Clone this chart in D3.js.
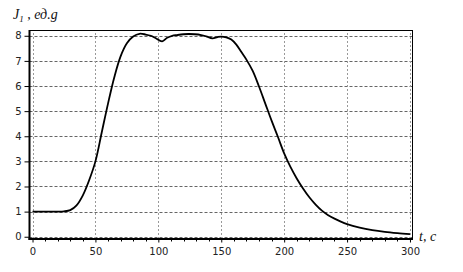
<!DOCTYPE html>
<html>
<head>
<meta charset="utf-8">
<script src="https://cdn.jsdelivr.net/npm/d3@7"></script>
<style>
  body { margin: 0; background: #fff; }
  svg { display: block; }
  .tick text { font-family: "DejaVu Sans", sans-serif; font-size: 10px; fill: #222; }
  .lbl { font-family: "Liberation Serif", serif; font-style: italic; fill: #111; }
</style>
</head>
<body>
<div class="chart"></div>
<script>
const width = 463;
const height = 272;

// time, s
const timeS = [0, 10, 20, 25, 30, 35, 40, 45, 50, 55, 60, 65, 70, 75, 80, 85,
    90, 94, 98, 103, 107, 111, 115, 120, 124, 129, 134, 138, 143, 147, 150, 154, 158, 162,
    166, 170, 175, 180, 185, 190, 195, 200, 205, 210, 215, 220, 225, 230, 235, 240, 245, 250,
    260, 270, 280, 290, 300];
// J1, units of g
const valueG = [1.0, 1.0, 1.0, 1.01, 1.06, 1.25, 1.65, 2.25, 3.0, 4.15, 5.3, 6.35, 7.18, 7.7,
    7.97, 8.08, 8.05, 8.0, 7.9, 7.78, 7.92, 8.0, 8.03, 8.06, 8.07, 8.06,
    8.03, 7.98, 7.9, 7.95, 7.97, 7.94, 7.85, 7.65, 7.35, 7.05, 6.6, 5.98, 5.3, 4.62, 3.98, 3.32,
    2.78, 2.32, 1.92, 1.57, 1.28, 1.04, 0.86, 0.72, 0.6, 0.5,
    0.36, 0.26, 0.19, 0.14, 0.1];

const xTicks = [0, 50, 100, 150, 200, 250, 300];
const yTicks = [0, 1, 2, 3, 4, 5, 6, 7, 8];

const svg = d3.select('.chart').append('svg')
    .attr('width', width)
    .attr('height', height);

const xScale = d3.scaleLinear().domain([-2.4, 302]).range([29.5, 412.5]);
const yScale = d3.scaleLinear().domain([-0.09, 8.23]).range([239, 30]);

/* grid */
svg.append('g').selectAll('line')
    .data(yTicks)
    .enter().append('line')
    .attr('x1', xScale.range()[0]).attr('x2', xScale.range()[1])
    .attr('y1', d => Math.round(yScale(d)) + 0.5).attr('y2', d => Math.round(yScale(d)) + 0.5)
    .attr('stroke', '#666').attr('stroke-dasharray', '3,2');
svg.append('g').selectAll('line')
    .data(xTicks)
    .enter().append('line')
    .attr('y1', yScale.range()[0]).attr('y2', yScale.range()[1])
    .attr('x1', d => Math.round(xScale(d)) + 0.5).attr('x2', d => Math.round(xScale(d)) + 0.5)
    .attr('stroke', '#999').attr('stroke-dasharray', '2,2');

/* frame top/right */
svg.append('line').attr('x1', 29.5).attr('x2', 412.5).attr('y1', 30.5).attr('y2', 30.5).attr('stroke', '#000');
svg.append('line').attr('x1', 412.5).attr('x2', 412.5).attr('y1', 30).attr('y2', 239).attr('stroke', '#000');

/* axes */
const yAxis = d3.axisLeft(yScale).tickValues(yTicks).tickSize(5).tickPadding(3).tickFormat(d3.format('d'));
svg.append('g')
    .attr('transform', 'translate(29.5,0)')
    .call(yAxis)
    .call(g => g.select('.domain').remove());

const xAxis = d3.axisBottom(xScale).tickValues(xTicks).tickSize(4).tickPadding(5).tickFormat(d3.format('d'));
svg.append('g')
    .attr('transform', 'translate(0,238.5)')
    .call(xAxis)
    .call(g => g.select('.domain').remove());
// minor x ticks
svg.append('g').selectAll('line')
    .data(d3.range(0, 301, 10).filter(d => d % 50 !== 0))
    .enter().append('line')
    .attr('x1', d => Math.round(xScale(d)) + 0.5).attr('x2', d => Math.round(xScale(d)) + 0.5)
    .attr('y1', 239).attr('y2', 241.5)
    .attr('stroke', '#000');

svg.append('line').attr('x1', 29.5).attr('x2', 29.5).attr('y1', 30).attr('y2', 240).attr('stroke', '#000').attr('stroke-width', 2);
svg.append('line').attr('x1', 28.5).attr('x2', 413).attr('y1', 239).attr('y2', 239).attr('stroke', '#000').attr('stroke-width', 2);

/* curve */
const line = d3.line()
    .x((d, i) => xScale(timeS[i]))
    .y(d => yScale(d))
    .curve(d3.curveCatmullRom.alpha(0.5));
svg.append('path')
    .datum(valueG)
    .attr('d', line)
    .attr('fill', 'none')
    .attr('stroke', '#000')
    .attr('stroke-width', 1.8);

/* labels */
const yl = svg.append('text').attr('class', 'lbl').attr('x', 13).attr('y', 19).attr('font-size', 14);
yl.append('tspan').text('J');
yl.append('tspan').attr('font-size', 9).attr('dy', 3).text('1');
yl.append('tspan').attr('dy', -3).text(' , ед.g');

svg.append('text').attr('class', 'lbl').attr('x', 419).attr('y', 241).attr('font-size', 14).text('t,  c');
</script>
</body>
</html>
